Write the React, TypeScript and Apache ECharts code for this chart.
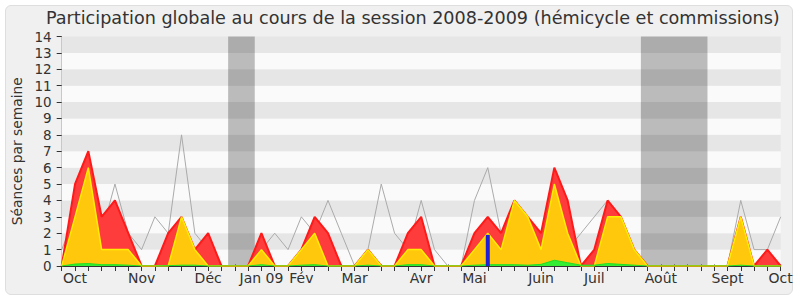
import React, { useEffect, useRef } from "react";
import * as echarts from "echarts";

const weeks: number[] = Array.from({ length: 55 }, (_, i) => i);
const redValues = [0,5,7,3,4,2,0,0,2,3,1,2,0,0,0,2,0,0,1,3,2,0,0,1,0,0,2,3,0,0,0,2,3,2,4,3,2,6,4,0,1,4,3,1,0,0,0,0,0,0,0,3,0,1,0];
const yellowValues = [0,3,6,1,1,1,0,0,0,3,1,0,0,0,0,1,0,0,1,2,0,0,0,1,0,0,1,1,0,0,0,1,2,1,4,3,1,5,2,0,0,3,3,1,0,0,0,0,0,0,0,3,0,0,0];
const greenValues = [0,0.12,0.15,0.08,0.08,0.05,0,0,0.02,0.05,0.05,0,0,0,0,0.08,0,0,0.05,0.08,0,0,0,0.05,0,0,0.08,0.08,0,0,0,0.05,0.08,0.08,0.08,0.05,0.1,0.35,0.2,0.05,0.05,0.15,0.1,0.05,0,0,0,0,0,0,0,0.05,0,0,0];
const medianValues = [1,3,4,2,5,2,1,3,2,8,2,1,0,0,0,1,2,1,3,2,4,2,0,1,5,2,1,4,1,0,0,4,6,2,2,1,2,3,1,2,3,4,3,1,0,0,0,0,0,0,0,4,1,1,3];
const blueBar: [number, number][] = [[32, 1.9]];
const vacations: [number, number][] = [[12.5, 14.5], [43.5, 48.5]];
const monthLabels: Record<number, string> = {
  1: "Oct", 6: "Nov", 11: "Déc", 15: "Jan 09", 18: "Fév", 22: "Mar", 27: "Avr",
  31: "Mai", 36: "Juin", 40: "Juil", 45: "Août", 50: "Sept", 54: "Oct",
};
const yTicks = [0, 14, 1];
const titleText = "Participation globale au cours de la session 2008-2009 (hémicycle et commissions)";
const yName = "Séances par semaine";

const FONT = "DejaVu Sans";

export default function App() {
  const ref = useRef<HTMLDivElement>(null);
  useEffect(() => {
    if (!ref.current) return;
    const chart = echarts.init(ref.current, null, { renderer: "svg" });
    const pts = (arr: number[]) => weeks.map((w, i) => [w, arr[i]]);
    chart.setOption({
      animation: false,
      backgroundColor: "transparent",
      textStyle: { fontFamily: FONT },
      title: {
        text: titleText,
        left: 46,
        top: 9,
        padding: 0,
        textStyle: { fontFamily: FONT, fontSize: 17.6, fontWeight: "normal", color: "#333" },
      },
      grid: { left: 61.7, right: 19.3, top: 36.5, bottom: 34, containLabel: false },
      xAxis: [
        {
          type: "value",
          min: 0,
          max: 54,
          interval: 1,
          position: "bottom",
          axisLine: { show: true, onZero: false, lineStyle: { color: "#333", width: 1 } },
          axisTick: { show: true, length: 5, lineStyle: { color: "#333" } },
          axisLabel: {
            formatter: (v: number) => monthLabels[v] ?? "",
            fontFamily: FONT,
            fontSize: 14,
            color: "#333",
            margin: 5,
          },
          splitLine: { show: false },
        },
        {
          type: "value",
          min: 0,
          max: 54,
          interval: 1,
          position: "top",
          axisLine: { show: false },
          axisTick: { show: true, length: 1.5, lineStyle: { color: "#444" } },
          axisLabel: { show: false },
          splitLine: { show: false },
        },
      ],
      yAxis: [
        {
          type: "value",
          min: yTicks[0],
          max: yTicks[1],
          interval: yTicks[2],
          axisLine: { show: true, lineStyle: { color: "#333" } },
          axisTick: { show: true, length: 5, lineStyle: { color: "#333" } },
          axisLabel: { fontFamily: FONT, fontSize: 13.5, color: "#333", margin: 10 },
          splitLine: { show: false },
          splitArea: { show: true, areaStyle: { color: ["#fafafa", "#e6e6e6"] } },
          name: yName,
          nameLocation: "middle",
          nameGap: 36,
          nameTextStyle: { fontFamily: FONT, fontSize: 13.8, color: "#333" },
        },
        {
          type: "value",
          min: 0,
          max: 14,
          position: "right",
          axisLine: { show: true, lineStyle: { color: "#c8c8c8" } },
          axisTick: { show: false },
          axisLabel: { show: false },
          splitLine: { show: false },
        },
      ],
      series: [
        {
          type: "line",
          name: "median",
          data: pts(medianValues),
          symbol: "none",
          lineStyle: { color: "#aaaaaa", width: 1 },
          z: 1,
          markArea: {
            silent: true,
            itemStyle: { color: "rgba(0,0,0,0.25)" },
            data: vacations.map(([a, b]) => [{ xAxis: a }, { xAxis: b }]),
          },
        },
        {
          type: "line",
          name: "red",
          data: pts(redValues),
          symbol: "none",
          lineStyle: { color: "#ff1a1a", width: 2 },
          areaStyle: { color: "#ff3c3c", opacity: 1 },
          z: 2,
        },
        {
          type: "line",
          name: "yellow",
          data: pts(yellowValues),
          symbol: "none",
          lineStyle: { color: "#ffee00", width: 1.5 },
          areaStyle: { color: "#ffd30a", opacity: 0.93 },
          z: 3,
        },
        {
          type: "line",
          name: "green",
          data: pts(greenValues),
          symbol: "none",
          lineStyle: { color: "#22dd22", width: 1 },
          areaStyle: { color: "#33ee33", opacity: 1 },
          z: 4,
        },
        {
          type: "bar",
          name: "blue",
          data: blueBar,
          barWidth: 4,
          itemStyle: { color: "#1f1fd8" },
          z: 5,
        },
      ],
    });
    return () => chart.dispose();
  }, []);

  return (
    <div style={{ position: "fixed", left: 0, top: 0, width: 800, height: 300, background: "#ffffff" }}>
      <div
        style={{
          position: "absolute",
          left: 5,
          top: 5,
          width: 786,
          height: 288,
          background: "#f0f0f0",
          border: "1px solid #dedede",
          borderRadius: 6,
        }}
      />
      <div ref={ref} style={{ position: "absolute", left: 0, top: 0, width: 800, height: 300 }} />
    </div>
  );
}
